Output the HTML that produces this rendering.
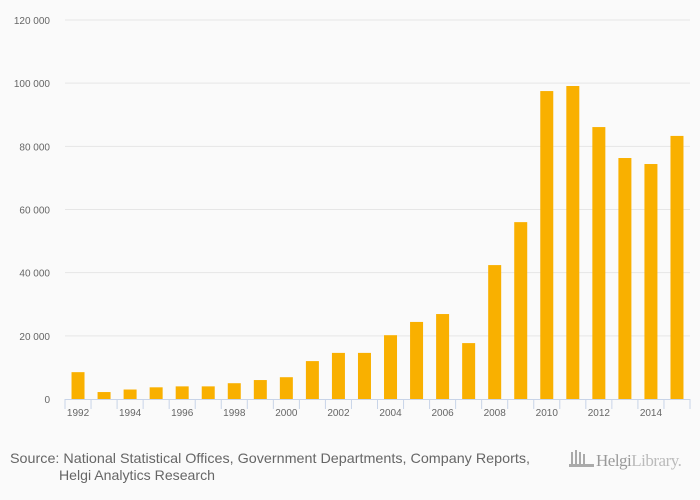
<!DOCTYPE html>
<html><head><meta charset="utf-8"><style>
body{margin:0;background:#fafafa;font-family:"Liberation Sans",sans-serif;}
svg{display:block}
</style></head><body>
<svg width="700" height="500" id="c">
<rect width="700" height="500" fill="#fafafa"/>
<g id="grid"></g><g id="bars"></g><g id="axis"></g>
<text x="10" y="463" font-size="14" fill="#666" textLength="520" lengthAdjust="spacingAndGlyphs">Source: National Statistical Offices, Government Departments, Company Reports,</text>
<text x="59" y="480" font-size="14" fill="#666" textLength="156" lengthAdjust="spacingAndGlyphs">Helgi Analytics Research</text>
<g>
<g fill="#aaa"><rect x="571" y="452" width="2" height="12"/><rect x="575" y="450" width="2" height="14"/><rect x="579" y="452" width="2" height="12"/><rect x="583" y="454" width="2" height="10"/><rect x="569" y="464" width="25" height="3"/></g>
<text x="596" y="466" font-size="17" fill="#999" font-family="Liberation Serif,serif" letter-spacing="-0.5">Helgi<tspan fill="#bbb">Library.</tspan></text>
</g>
</svg>
<script>
const categories=["1992","1993","1994","1995","1996","1997","1998","1999","2000","2001","2002","2003","2004","2005","2006","2007","2008","2009","2010","2011","2012","2013","2014","2015"];
const values=[8500,2200,3000,3700,4000,4000,5000,6000,6900,12000,14600,14600,20200,24400,26900,17700,42400,56000,97500,99100,86100,76300,74400,83300];
const yTicks=[0,20000,40000,60000,80000,100000,120000];
const yTickLabels=["0","20 000","40 000","60 000","80 000","100 000","120 000"];
const NS="http://www.w3.org/2000/svg";
const x0=65,x1=690,y0=399,y1=20,yMax=120000;
const bw=(x1-x0)/categories.length;
const y=v=>y0-(v/yMax)*(y0-y1);
const xc=i=>x0+bw*(i+0.5);
function mk(tag,attrs,parent){const e=document.createElementNS(NS,tag);for(const k in attrs)e.setAttribute(k,attrs[k]);parent.appendChild(e);return e;}
const grid=document.getElementById('grid'),bars=document.getElementById('bars'),axis=document.getElementById('axis');
yTicks.forEach((t,i)=>{
 if(t>0){const l=mk('line',{x1:x0,x2:x1,y1:y(t),y2:y(t),stroke:'#e6e6e6','stroke-width':1},grid);
 
 }
 const tx=mk('text',{x:50,y:y(t)+4,'text-anchor':'end','font-size':10,fill:'#666'},axis);
 tx.textContent=yTickLabels[i];
 
 
});
values.forEach((v,i)=>{
 const r=mk('rect',{x:xc(i)-6.5,y:y(v),width:13,height:y0-y(v),fill:'#f9b000'},bars);
 
 
});
const al=mk('line',{x1:x0,x2:x1,y1:y0+0.5,y2:y0+0.5,stroke:'#c8d4e8','stroke-width':1},axis);


for(let i=0;i<=categories.length;i++){
 const tk=mk('line',{x1:x0+bw*i,x2:x0+bw*i,y1:y0,y2:y0+10,stroke:'#c8d4e8','stroke-width':1},axis);
 
 
}
categories.forEach((c,i)=>{
 if(i%2)return;
 const tx=mk('text',{x:xc(i),y:y0+17,'text-anchor':'middle','font-size':10,fill:'#666'},axis);
 tx.textContent=c;
 
 
});
</script>
</body></html>
